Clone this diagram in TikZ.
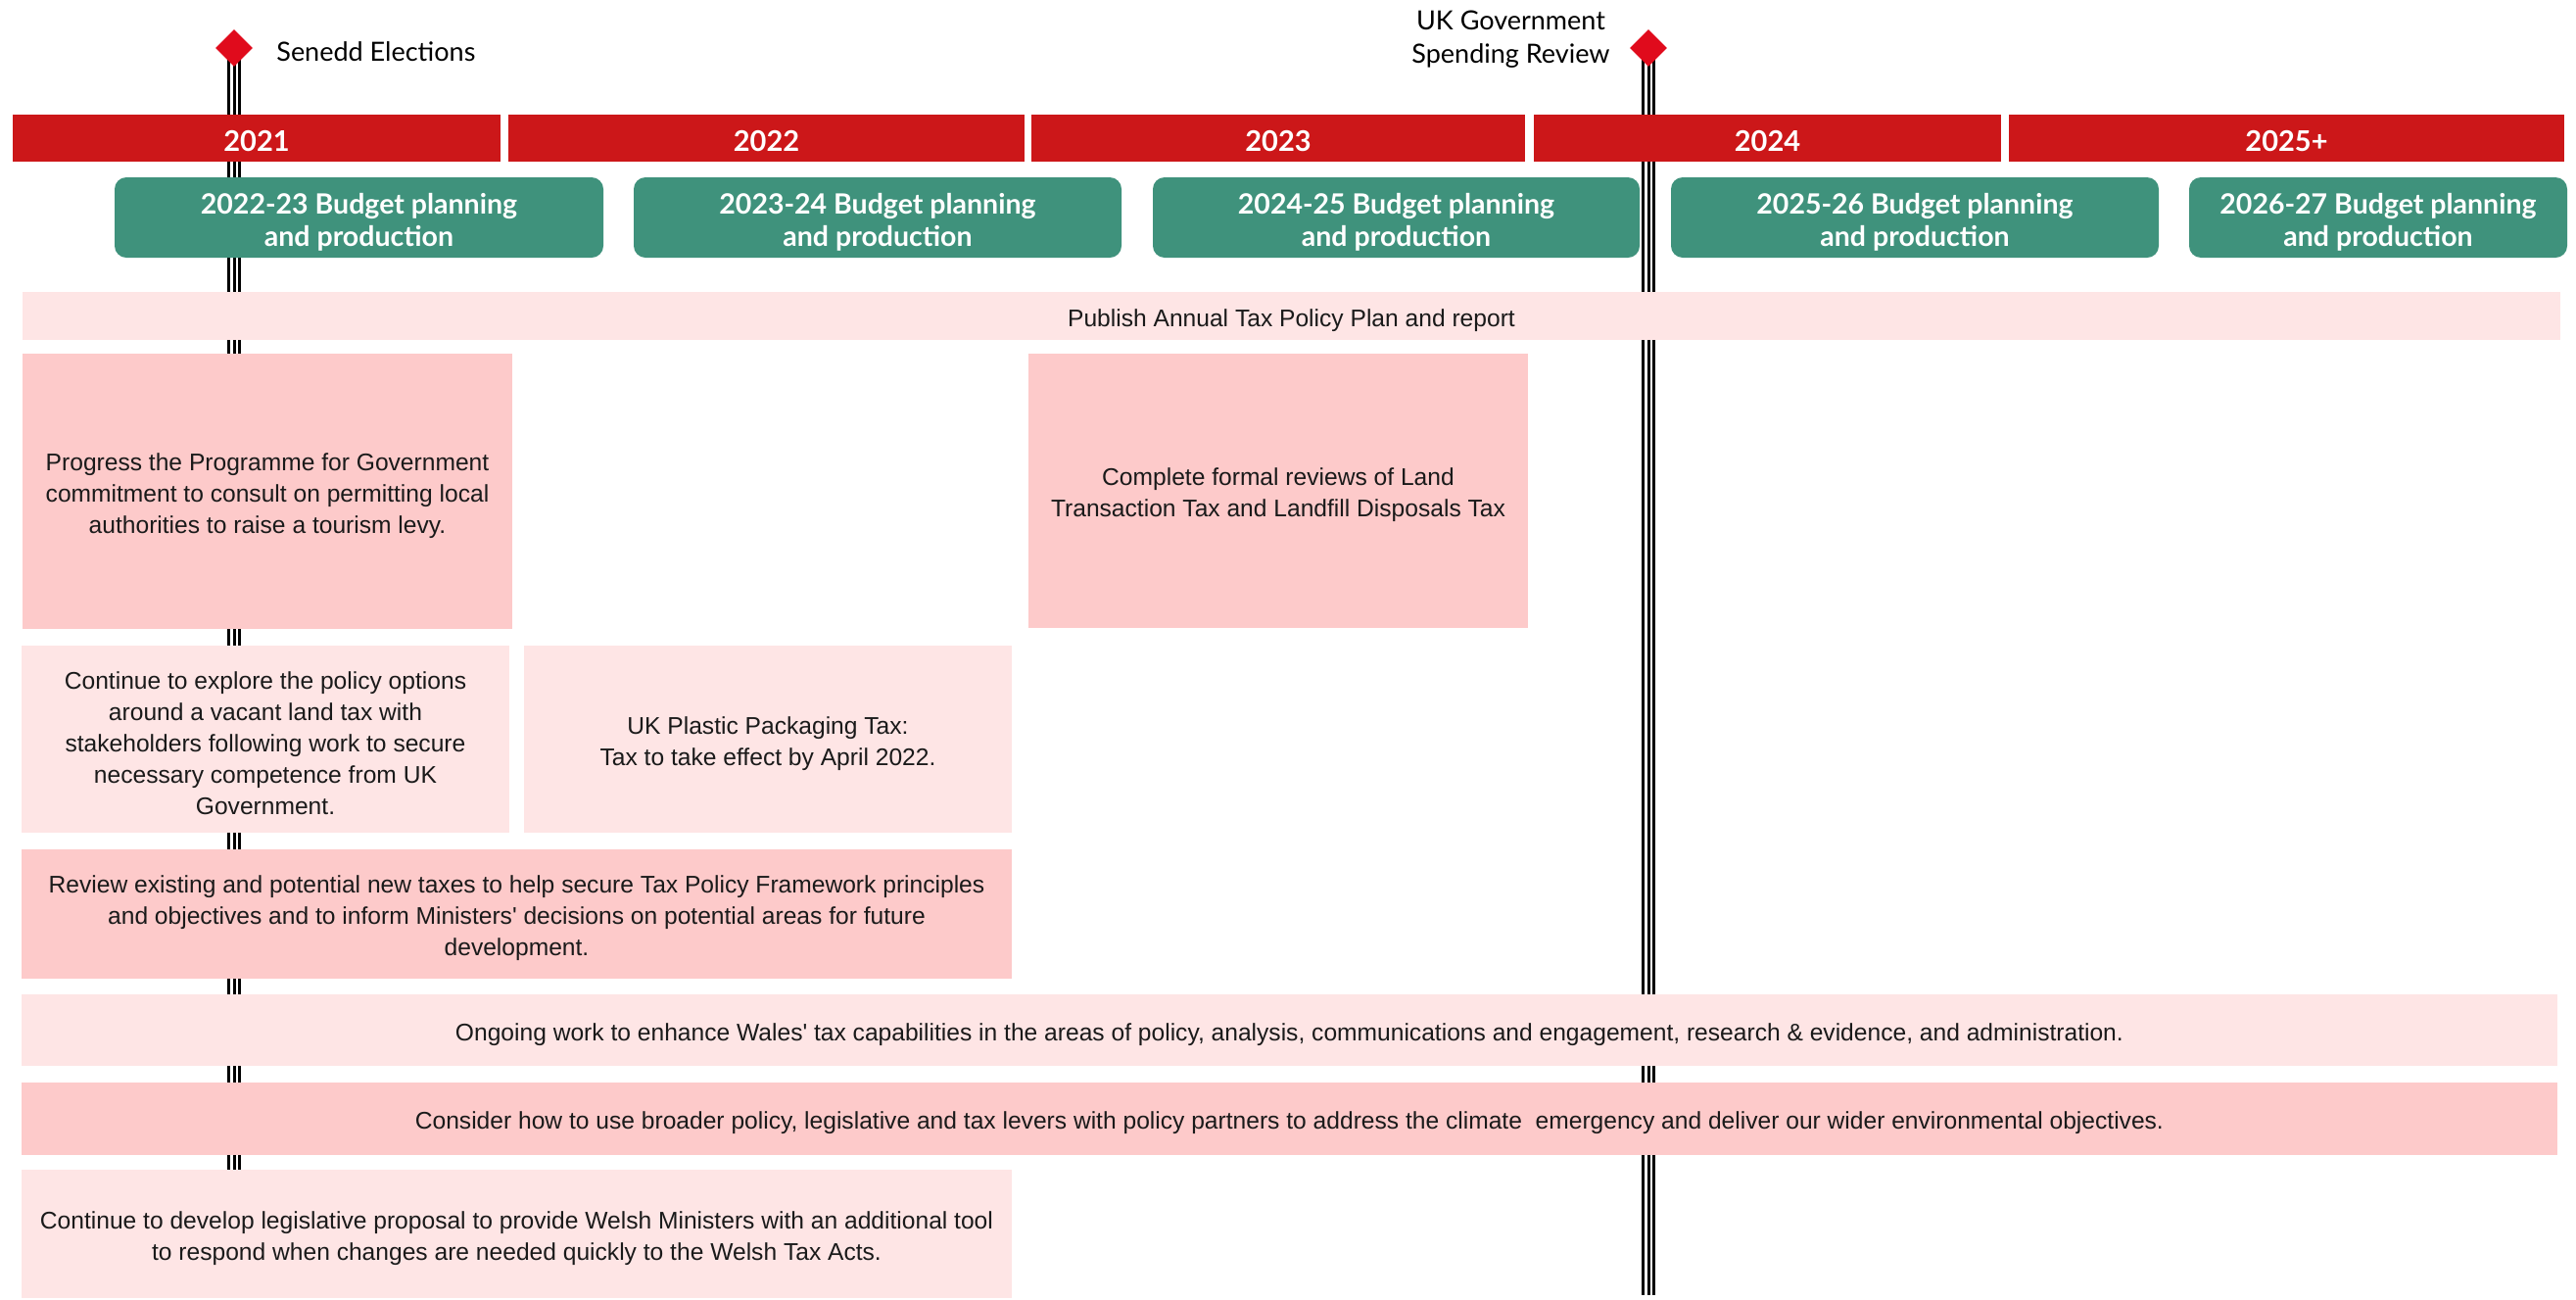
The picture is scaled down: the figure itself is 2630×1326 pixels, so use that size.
\documentclass[tikz,border=0pt]{standalone}
\usepackage{fontspec}
\setmainfont{Liberation Sans}
\newfontfamily\headfont{Lato}
\usepackage{tikz}
\usetikzlibrary{positioning,shapes.geometric,backgrounds}
\definecolor{yearred}{HTML}{CC1719}
\definecolor{markred}{HTML}{E00B1C}
\definecolor{budgetgreen}{HTML}{3F927C}
\definecolor{palepink}{HTML}{FEE5E5}
\definecolor{rosepink}{HTML}{FDCACA}
\definecolor{inkgrey}{HTML}{1A1A1A}
\newcommand*{\topgap}[1]{\rule{0pt}{#1pt}}% extra height on a first line
\tikzset{
  yearbar/.style={fill=yearred, text=white, minimum height=48, inner sep=0,
    font=\headfont\bfseries\fontsize{29}{33}\selectfont,
    execute at begin node={\topgap{28}}},
  budget/.style={fill=budgetgreen, text=white, rounded corners=12, minimum height=82,
    inner sep=0, align=center, font=\headfont\bfseries\fontsize{28.5}{33}\selectfont},
  palecell/.style={fill=palepink, text=inkgrey, inner sep=0, align=center,
    font=\fontsize{24.6}{32}\selectfont},
  rosecell/.style={palecell, fill=rosepink},
  milestone/.style={diamond, fill=markred, inner sep=0, minimum width=38, minimum height=38},
  marklabel/.style={text=black, inner sep=0, align=center,
    font=\headfont\fontsize{27}{34}\selectfont},
  timeline/.style={line width=14, black, postaction={draw=white, line width=8},
    postaction={draw=black, line width=3}}
}
\newcommand*{\YearBars}[1]{% #1 = list of left/right/label
\foreach \xl/\xr/\lab [count=\i] in {#1} {
\node [yearbar, minimum width={\xr-\xl}] (year\i)
at ({(\xl+\xr)/2},141) {\lab};
}%
}
\newcommand*{\BudgetBoxes}[1]{% #1 = list of left/right/years
\foreach \xl/\xr/\yrs [count=\i] in {#1} {
\node [budget, minimum width={\xr-\xl}] (budget\i)
at ({(\xl+\xr)/2},222) {\topgap{31}\yrs\ Budget planning\\and production};
}%
}
\begin{document}
\begin{tikzpicture}[x=1pt,y=-1pt]
\useasboundingbox (0,0) rectangle (2630,1326);

% milestones
\node [milestone] (senedd) at (239,49) {};
\node [marklabel, anchor=west, right=24 of senedd, yshift=-4] (senedd-label) {Senedd Elections};
\node [milestone] (spendrev) at (1683,49) {};
\node [marklabel, anchor=east, left=20 of spendrev, yshift=9] (spendrev-label)
{UK Government\\Spending Review};
\coordinate (senedd-end) at (239,1290);
\coordinate (spendrev-end) at (1683,1322);

% years and budget rounds
\YearBars{13/511/2021, 519/1046/2022, 1053/1557/2023, 1566/2043/2024, 2051/2618/2025+}
\BudgetBoxes{117/616/2022-23, 647/1145/2023-24, 1177/1674/2024-25, 1706/2204/2025-26, 2235/2621/2026-27}

% work items
\node [palecell, minimum width=2591, minimum height=49] (publish) at (1318.5,322.5)
{\topgap{27}Publish Annual Tax Policy Plan and report};
\node [rosecell, minimum width=500, minimum height=281] (levy) at (273,501.5)
{\topgap{27}Progress the Programme for Government\\commitment to consult on permitting local\\authorities to raise a tourism levy.};
\node [rosecell, minimum width=510, minimum height=280] (reviews) at (1305,501)
{\topgap{27}Complete formal reviews of Land\\Transaction Tax and Landfill Disposals Tax};
\node [palecell, minimum width=498, minimum height=191] (vacant) at (271,754.5)
{\topgap{27}Continue to explore the policy options\\around a vacant land tax with\\stakeholders following work to secure\\necessary competence from UK\\Government.};
\node [palecell, minimum width=498, minimum height=191] (plastic) at (784,754.5)
{\topgap{27}UK Plastic Packaging Tax:\\Tax to take effect by April 2022.};
\node [rosecell, minimum width=1011, minimum height=132] (newtaxes) at (527.5,933)
{\topgap{27}Review existing and potential new taxes to help secure Tax Policy Framework principles\\and objectives and to inform Ministers\textquotesingle\ decisions on potential areas for future\\development.};
\node [palecell, minimum width=2589, minimum height=73] (ongoing) at (1316.5,1051.5)
{\topgap{27}Ongoing work to enhance Wales\textquotesingle\ tax capabilities in the areas of policy, analysis, communications and engagement, research \& evidence, and administration.};
\node [rosecell, minimum width=2589, minimum height=74] (climate) at (1316.5,1142)
{\topgap{27}Consider how to use broader policy, legislative and tax levers with policy partners to address the climate\ \ emergency and deliver our wider environmental objectives.};
\node [palecell, minimum width=1011, minimum height=131] (legislative) at (527.5,1259.5)
{\topgap{27}Continue to develop legislative proposal to provide Welsh Ministers with an additional tool\\to respond when changes are needed quickly to the Welsh Tax Acts.};

\begin{scope}[on background layer]
\draw [timeline] (senedd.center) -- (senedd-end);
\draw [timeline] (spendrev.center) -- (spendrev-end);
\end{scope}
\end{tikzpicture}
\end{document}
